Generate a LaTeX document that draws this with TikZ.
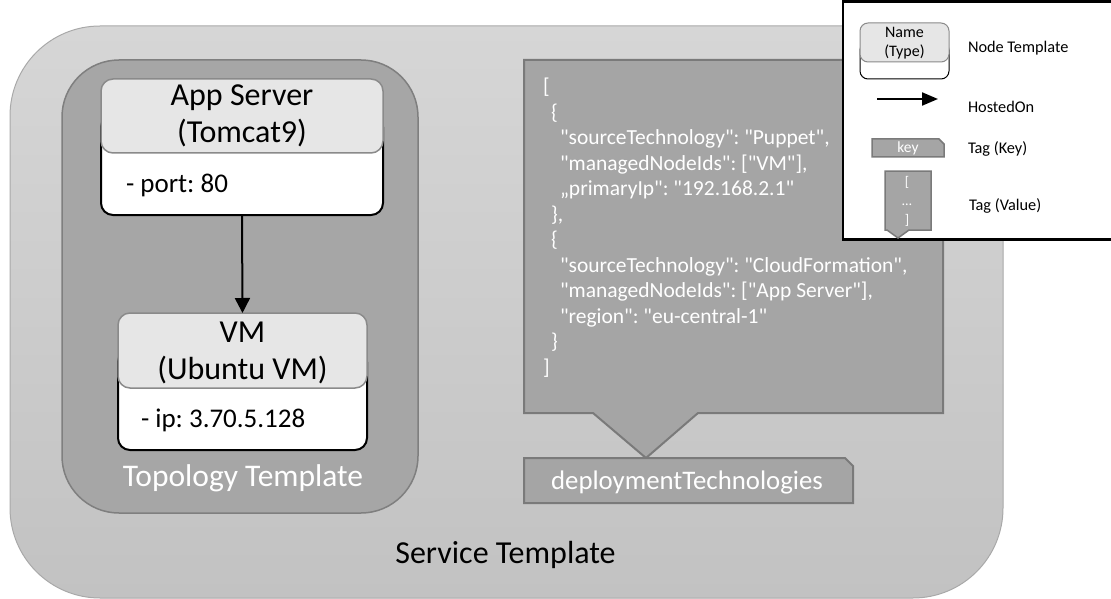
\documentclass[tikz,border=0pt]{standalone}
\usepackage{fontspec}
\setmainfont{Carlito}[Ligatures=TeXOff]
\usetikzlibrary{arrows.meta}
\newcommand\fsz[2]{\fontsize{#1pt}{#2pt}\selectfont}
\frenchspacing

\definecolor{svcTop}{HTML}{D6D6D6}
\definecolor{svcBot}{HTML}{C2C2C2}
\definecolor{svcLine}{HTML}{A9A9A9}
\definecolor{topoFill}{HTML}{A6A6A6}
\definecolor{topoLine}{HTML}{7F7F7F}
\definecolor{headFill}{HTML}{E6E6E6}
\definecolor{headLine}{HTML}{8A8A8A}
\definecolor{tagFill}{HTML}{A5A5A5}
\definecolor{tagLine}{HTML}{7A7A7A}

\begin{document}
\begin{tikzpicture}[x=1pt,y=-1pt,
  box/.style={rectangle, inner sep=0pt, outer sep=0pt, anchor=north west},
  servicebox/.style={box, draw=svcLine, line width=1pt, top color=svcTop, bottom color=svcBot, rounded corners=90pt},
  topobox/.style={box, draw=topoLine, line width=1.5pt, fill=topoFill, rounded corners=57pt},
  bodybox/.style={box, draw=black, line width=2pt, fill=white, rounded corners=#1},
  headbox/.style={box, draw=headLine, line width=1.5pt, fill=headFill, rounded corners=#1},
  tagshape/.style={draw=tagLine, line width=2pt, fill=tagFill, line join=miter},
  smalltag/.style={draw=tagLine, line width=1.5pt, fill=tagFill},
  hosted/.style={line width=2pt, -{Triangle[width=15pt,length=15pt]}},
  hostedsmall/.style={line width=2pt, -{Triangle[width=13pt,length=16pt]}},
  txt/.style={inner sep=0pt, outer sep=0pt},
  lgtxt/.style={txt, anchor=west, font=\fsz{16.3}{19}}
]
\useasboundingbox (0,0) rectangle (1111,599);

% Service Template container
\node[servicebox, minimum width=993pt, minimum height=572pt] (service) at (10,26) {};
\node[txt, font=\fsz{32}{38}] (servicelabel) at (505.5,555) {Service Template};

% Topology Template container
\node[topobox, minimum width=356pt, minimum height=453pt] (topology) at (62,60) {};
\node[txt, text=white, font=\fsz{31.5}{37}] (topolabel) at (243,478) {Topology Template};

% App Server node template
\node[bodybox=12pt, minimum width=282pt, minimum height=100pt] (appbody) at (101,115) {};
\node[headbox=12pt, minimum width=282pt, minimum height=74pt] (apphead) at (101,79) {};
\node[txt, align=center, font=\fsz{32}{37}] (apptitle) at (242,116) {App Server\\(Tomcat9)};
\node[txt, anchor=west, font=\fsz{27}{31}] (appprop) at (126,185) {- port: 80};

% VM node template
\node[bodybox=12pt, minimum width=249pt, minimum height=100pt] (vmbody) at (118,350) {};
\node[headbox=12pt, minimum width=249pt, minimum height=75pt] (vmhead) at (118,313) {};
\node[txt, align=center, font=\fsz{32}{37}] (vmtitle) at (242.5,353) {VM\\(Ubuntu VM)};
\node[txt, anchor=west, font=\fsz{27}{31}] (vmprop) at (141,420) {- ip: 3.70.5.128};

% HostedOn relation
\draw[hosted] (appbody.south) -- (vmhead.north);

% Tag value callout
\coordinate (calloutTip) at (646,458);
\draw[tagshape] (524,60) -- (943,60) -- (943,413) -- (698,413) -- (calloutTip)
  -- (593,413) -- (524,413) -- cycle;
\node[txt, anchor=north west, align=left, text=white, font=\fsz{21.5}{25.5}] (tagvalue) at (543,78) {%
[\\
\hspace*{8pt}\{\\
\hspace*{17pt}"sourceTechnology": "Puppet",\\
\hspace*{17pt}"managedNodeIds": ["VM"],\\
\hspace*{17pt}„primaryIp": "192.168.2.1"\\
\hspace*{8pt}\},\\
\hspace*{8pt}\{\\
\hspace*{17pt}"sourceTechnology": "CloudFormation",\\
\hspace*{17pt}"managedNodeIds": ["App Server"],\\
\hspace*{17pt}"region": "eu-central-1"\\
\hspace*{8pt}\}\\
]};

% Tag key
\draw[tagshape] (524,458) -- (845,458) -- (853,466) -- (853,503) -- (524,503) -- cycle;
\node[txt, text=white, font=\fsz{26.8}{31}] (tagkey) at (687,482) {deploymentTechnologies};

% Legend
\node[box, draw=black, line width=2.5pt, fill=white, minimum width=272pt, minimum height=238pt] (legend) at (843,1.5) {};

\node[bodybox=8pt, line width=1pt, minimum width=89pt, minimum height=37pt] (lgbody) at (860,42) {};
\node[headbox=8pt, line width=1pt, minimum width=89pt, minimum height=39pt] (lghead) at (860,23) {};
\node[txt, align=center, font=\fsz{16}{19}] (lgname) at (904.5,43) {Name\\(Type)};
\node[lgtxt] (lgnodetxt) at (968,48) {Node Template};

\coordinate (lgarrowA) at (877,99);
\coordinate (lgarrowB) at (938,99);
\draw[hostedsmall] (lgarrowA) -- (lgarrowB);
\node[lgtxt] (lghostedtxt) at (968,107) {HostedOn};

\draw[smalltag] (872,139) -- (939,139) -- (944,144) -- (944,157) -- (872,157) -- cycle;
\node[txt, text=white, font=\fsz{15.5}{18}] (lgkey) at (908,148.5) {key};
\node[lgtxt] (lgkeytxt) at (968,149) {Tag (Key)};

\draw[smalltag] (885,171) -- (931,171) -- (931,230) -- (909,230) -- (898,238)
  -- (887,230) -- (885,230) -- cycle;
\node[txt, align=center, text=white, font=\fsz{14}{19}] (lgvalue) at (907,201) {[\\…\\]};
\node[lgtxt] (lgvaluetxt) at (969,206) {Tag (Value)};
\end{tikzpicture}
\end{document}
